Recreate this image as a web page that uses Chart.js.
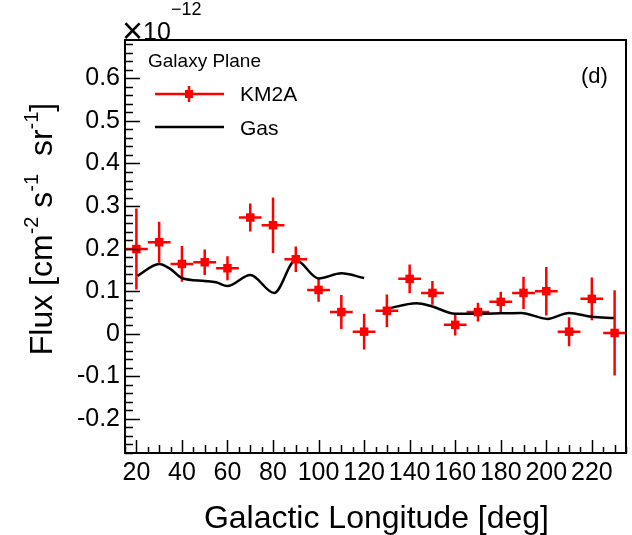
<!DOCTYPE html>
<html>
<head>
<meta charset="utf-8">
<script src="https://cdn.jsdelivr.net/npm/chart.js@4.4.1/dist/chart.umd.min.js"></script>
<style>
  html, body { margin: 0; padding: 0; background: #fff; }
  #wrap { width: 632px; height: 535px; position: relative; }
</style>
</head>
<body>
<div id="wrap"><canvas id="fluxChart"></canvas></div>
<script>
// --- datos (d) ---
const xTicks = [20, 40, 60, 80, 100, 120, 140, 160, 180, 200, 220];
const yTicks = [-0.2, -0.1, 0, 0.1, 0.2, 0.3, 0.4, 0.5, 0.6];

const binCenters = [20, 30, 40, 50, 60, 70, 80, 90, 100, 110, 120, 130, 140, 150, 160, 170, 180, 190, 200, 210, 220, 230];
const km2aFlux = [0.199, 0.215, 0.164, 0.168, 0.154, 0.273, 0.255, 0.175, 0.103, 0.051, 0.005, 0.054, 0.129, 0.096, 0.021, 0.051, 0.075, 0.096, 0.100, 0.005, 0.082, 0.002];
const km2aErr = [0.095, 0.048, 0.042, 0.030, 0.028, 0.033, 0.065, 0.030, 0.028, 0.040, 0.042, 0.038, 0.034, 0.028, 0.025, 0.022, 0.024, 0.038, 0.057, 0.034, 0.050, 0.100];
const binHalfWidth = 5;

const gasLon = [20.5, 30, 35, 40, 50, 55, 60, 70, 80.5, 90, 100, 110, 120, 125, 129.7, 143, 150, 160, 170, 180, 189, 200.5, 210, 220, 229.6];
const gasFlux = [0.136, 0.164, 0.152, 0.131, 0.124, 0.121, 0.112, 0.138, 0.096, 0.173, 0.130, 0.142, 0.131, null, 0.058, 0.072, 0.064, 0.047, 0.047, 0.048, 0.049, 0.035, 0.049, 0.040, 0.037];

const FONT = '"Liberation Sans", Arial, Helvetica, sans-serif';

// --- estilo ROOT: marco, ticks hacia dentro, barras de error, textos ---
const rootStyle = {
    id: 'rootStyle',
    beforeDatasetsDraw(chart) {
        const { ctx, scales: { x, y } } = chart;
        ctx.save();
        ctx.strokeStyle = '#ff0000';
        ctx.lineWidth = 2.5;
        binCenters.forEach((c, i) => {
            const px = x.getPixelForValue(c);
            const py = y.getPixelForValue(km2aFlux[i]);
            ctx.beginPath();
            ctx.moveTo(x.getPixelForValue(c - binHalfWidth), py);
            ctx.lineTo(x.getPixelForValue(c + binHalfWidth), py);
            ctx.moveTo(px, y.getPixelForValue(km2aFlux[i] + km2aErr[i]));
            ctx.lineTo(px, y.getPixelForValue(km2aFlux[i] - km2aErr[i]));
            ctx.stroke();
        });
        ctx.restore();
    },
    afterDraw(chart) {
        const { ctx, chartArea: a, scales: { x, y } } = chart;
        ctx.save();
        ctx.strokeStyle = '#000';
        ctx.fillStyle = '#000';

        // ticks eje Y (mayores 0.1, menores 0.02)
        ctx.lineWidth = 1.5;
        ctx.beginPath();
        for (let k = -14; k <= 34; k++) {
            const v = k * 0.02;
            if (v < y.min || v > y.max) continue;
            const py = Math.round(y.getPixelForValue(v)) + 0.5;
            const len = (k % 5 === 0) ? 15 : 8;
            ctx.moveTo(a.left, py);
            ctx.lineTo(a.left + len, py);
        }
        // ticks eje X (mayores 20, menores 5)
        for (let v = 15; v <= 235; v += 5) {
            const px = Math.round(x.getPixelForValue(v)) + 0.5;
            const len = (v % 20 === 0) ? 13 : (v % 10 === 0 ? 8 : 6);
            ctx.moveTo(px, a.bottom);
            ctx.lineTo(px, a.bottom - len);
        }
        ctx.stroke();

        // marco
        ctx.lineWidth = 2;
        ctx.strokeRect(a.left, a.top, a.right - a.left, a.bottom - a.top);

        // x10^-12
        ctx.textBaseline = 'alphabetic';
        ctx.textAlign = 'left';
        ctx.font = '36px ' + FONT;
        ctx.fillText('\u00d7', 122, 43);
        ctx.font = '25px ' + FONT;
        ctx.fillText('10', 143, 40);
        ctx.font = '18px ' + FONT;
        ctx.fillText('\u221212', 171, 15);

        // (d)
        ctx.font = '22px ' + FONT;
        ctx.fillText('(d)', 581, 83);

        // leyenda
        ctx.font = '19px ' + FONT;
        ctx.fillText('Galaxy Plane', 148, 67);
        ctx.font = '21px ' + FONT;
        ctx.fillText('KM2A', 240, 101);
        ctx.fillText('Gas', 240, 135);
        ctx.strokeStyle = '#ff0000';
        ctx.fillStyle = '#ff0000';
        ctx.lineWidth = 2.5;
        ctx.beginPath();
        ctx.moveTo(155, 94); ctx.lineTo(224, 94);
        ctx.moveTo(189, 86); ctx.lineTo(189, 102);
        ctx.stroke();
        ctx.fillRect(185, 90, 8, 8);
        ctx.strokeStyle = '#000';
        ctx.lineWidth = 2.5;
        ctx.beginPath();
        ctx.moveTo(155, 127); ctx.lineTo(224, 127);
        ctx.stroke();

        // título eje X
        ctx.fillStyle = '#000';
        ctx.font = '32px ' + FONT;
        ctx.textAlign = 'right';
        ctx.fillText('Galactic Longitude [deg]', 549, 528);

        // título eje Y con superíndices
        const parts = [
            ['Flux [cm', false], ['-2', true], [' s', false], ['-1', true],
            ['  sr', false], ['-1', true], [']', false]
        ];
        const big = '32px ' + FONT, small = '20px ' + FONT;
        let total = 0;
        parts.forEach(([t, sup]) => { ctx.font = sup ? small : big; total += ctx.measureText(t).width; });
        ctx.translate(52, 229);
        ctx.rotate(-Math.PI / 2);
        ctx.textAlign = 'left';
        let cx = -total / 2;
        parts.forEach(([t, sup]) => {
            ctx.font = sup ? small : big;
            ctx.fillText(t, cx, sup ? -14 : 0);
            cx += ctx.measureText(t).width;
        });
        ctx.restore();
    }
};

function renderChart() {
    const canvas = document.getElementById('fluxChart');
    new Chart(canvas.getContext('2d'), {
        type: 'line',
        data: {
            datasets: [{
                label: 'KM2A',
                data: binCenters.map((c, i) => ({ x: c, y: km2aFlux[i] })),
                showLine: false,
                pointStyle: 'rect',
                pointRadius: 6,
                pointBackgroundColor: '#ff0000',
                pointBorderColor: '#ff0000',
                pointBorderWidth: 0
            }, {
                label: 'Gas',
                data: gasLon.map((l, i) => ({ x: l, y: gasFlux[i] })),
                borderColor: '#000',
                borderWidth: 2.5,
                pointRadius: 0,
                cubicInterpolationMode: 'monotone',
                spanGaps: false
            }]
        },
        options: {
            responsive: true,
            maintainAspectRatio: false,
            animation: false,
            layout: { padding: { left: 0, right: 6, top: 40, bottom: 0 } },
            plugins: { legend: { display: false }, tooltip: { enabled: false } },
            scales: {
                x: {
                    type: 'linear',
                    min: 15,
                    max: 235,
                    afterBuildTicks: s => { s.ticks = xTicks.map(v => ({ value: v })); },
                    afterFit: s => { s.height = 82; },
                    grid: { display: false, drawTicks: false },
                    border: { display: false },
                    ticks: { color: '#000', font: { size: 25, family: FONT }, padding: 5, maxRotation: 0, autoSkip: false }
                },
                y: {
                    type: 'linear',
                    min: -0.28,
                    max: 0.69,
                    afterBuildTicks: s => { s.ticks = yTicks.map(v => ({ value: v })); },
                    afterFit: s => { s.width = 125; },
                    grid: { display: false, drawTicks: false },
                    border: { display: false },
                    ticks: {
                        color: '#000', font: { size: 25, family: FONT }, padding: 5,
                        callback: v => (Math.abs(v) < 1e-9 ? '0' : (Math.round(v * 10) / 10).toString())
                    }
                }
            }
        },
        plugins: [rootStyle]
    });
}

window.onload = renderChart;
</script>
</body>
</html>
